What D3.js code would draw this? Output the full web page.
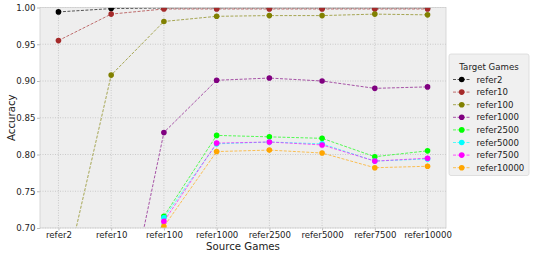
<!doctype html>
<html lang="en">
<head>
<meta charset="UTF-8">
<title>Accuracy by source game</title>
<style type="text/css">
body {
  margin: 0;
  padding: 0;
  background: #fff;
  font-family: 'DejaVu Sans', sans-serif;
}
</style>
<script type="text/javascript" src="https://cdn.jsdelivr.net/npm/d3@7"></script>
</head>
<body>
<div id="chart"></div>
<script type="text/javascript">

var sourceGames = ['refer2', 'refer10', 'refer100', 'refer1000', 'refer2500', 'refer5000', 'refer7500', 'refer10000'];
var targetGames = ['refer2', 'refer10', 'refer100', 'refer1000', 'refer2500', 'refer5000', 'refer7500', 'refer10000'];
var lineColors = ['#000000', '#a52a2a', '#808000', '#800080', '#00ff00', '#00ffff', '#ff00ff', '#ffa500'];
var yTicks = [0.70, 0.75, 0.80, 0.85, 0.90, 0.95, 1.00];

// one array per target game, values over the source games
var accRefer2 = [0.994, 0.9985, 0.9993, 0.9994, 0.9994, 0.9994, 0.9994, 0.9994];
var accRefer10 = [0.955, 0.991, 0.998, 0.998, 0.998, 0.998, 0.998, 0.998];
var accRefer100 = [0.595, 0.908, 0.981, 0.988, 0.989, 0.989, 0.991, 0.990];
var accRefer1000 = [0.45, 0.487, 0.830, 0.901, 0.904, 0.900, 0.890, 0.892];
var accRefer2500 = [0.40, 0.42, 0.716, 0.826, 0.824, 0.822, 0.797, 0.805];
var accRefer5000 = [0.40, 0.42, 0.714, 0.8145, 0.817, 0.8145, 0.791, 0.794];
var accRefer7500 = [0.40, 0.42, 0.709, 0.8155, 0.817, 0.813, 0.791, 0.795];
var accRefer10000 = [0.40, 0.42, 0.702, 0.804, 0.806, 0.802, 0.782, 0.784];

var series = [accRefer2, accRefer10, accRefer100, accRefer1000, accRefer2500, accRefer5000, accRefer7500, accRefer10000];

var w = 533, h = 256;
var margin = {top: 7.5, right: 87, bottom: 28, left: 40};
var pw = w - margin.left - margin.right;
var ph = h - margin.top - margin.bottom;
var fontSize = '8.6px';

var svg = d3.select('#chart').append('svg')
  .attr('width', w)
  .attr('height', h);

var x = d3.scalePoint().domain(sourceGames).range([0, pw]).padding(0.35);
var y = d3.scaleLinear().domain([0.70, 1.00]).range([ph, 0]);

var g = svg.append('g').attr('transform', 'translate(' + margin.left + ',' + margin.top + ')');

g.append('rect')
  .attr('width', pw)
  .attr('height', ph)
  .attr('fill', '#eeeeee');

// grid
g.selectAll('line.hgrid').data(yTicks).enter().append('line')
  .attr('class', 'hgrid')
  .attr('x1', 0).attr('x2', pw)
  .attr('y1', function(d) { return y(d); })
  .attr('y2', function(d) { return y(d); })
  .attr('stroke', '#b2b2b2')
  .attr('stroke-width', 0.6)
  .attr('stroke-dasharray', '1,1.5');

g.selectAll('line.vgrid').data(sourceGames).enter().append('line')
  .attr('class', 'vgrid')
  .attr('y1', 0).attr('y2', ph)
  .attr('x1', function(d) { return x(d); })
  .attr('x2', function(d) { return x(d); })
  .attr('stroke', '#b2b2b2')
  .attr('stroke-width', 0.6)
  .attr('stroke-dasharray', '1,1.5');

// axes
var xAxis = g.append('g')
  .attr('transform', 'translate(0,' + ph + ')')
  .call(d3.axisBottom(x).tickSize(2.5).tickPadding(1.5));
var yAxis = g.append('g')
  .call(d3.axisLeft(y).tickValues(yTicks).tickFormat(d3.format('.2f')).tickSize(3).tickPadding(1.5));

[xAxis, yAxis].forEach(function(a) {
  a.select('.domain').remove();
  a.selectAll('.tick line').attr('stroke', '#bcbcbc');
  a.selectAll('text')
    .attr('fill', '#222')
    .style('font-size', fontSize)
    .style('font-family', "'DejaVu Sans', sans-serif");
});

// lines and markers
var clip = svg.append('clipPath').attr('id', 'plotclip')
  .append('rect').attr('width', pw).attr('height', ph);

var line = d3.line()
  .x(function(d, i) { return x(sourceGames[i]); })
  .y(function(d) { return y(d); });

var plot = g.append('g').attr('clip-path', 'url(#plotclip)');

series.forEach(function(values, si) {
  plot.append('path')
    .datum(values)
    .attr('d', line)
    .attr('fill', 'none')
    .attr('stroke', lineColors[si])
    .attr('stroke-opacity', 0.65)
    .attr('stroke-width', 1)
    .attr('stroke-dasharray', '3,1.5');
  plot.selectAll('circle.s' + si).data(values).enter().append('circle')
    .attr('class', 's' + si)
    .attr('cx', function(d, i) { return x(sourceGames[i]); })
    .attr('cy', function(d) { return y(d); })
    .attr('r', 2.8)
    .attr('fill', lineColors[si]);
});

g.append('rect')
  .attr('width', pw)
  .attr('height', ph)
  .attr('fill', 'none')
  .attr('stroke', '#d0d0d0')
  .attr('stroke-width', 0.8);

// axis titles
svg.append('text')
  .attr('x', margin.left + pw / 2)
  .attr('y', 250)
  .attr('text-anchor', 'middle')
  .style('font-size', '10.2px')
  .attr('fill', '#222')
  .text('Source Games');

svg.append('text')
  .attr('transform', 'translate(15,' + (margin.top + ph / 2) + ') rotate(-90)')
  .attr('text-anchor', 'middle')
  .style('font-size', '10.2px')
  .attr('fill', '#222')
  .text('Accuracy');

// legend
var lx = 449, ly = 54;
var legend = svg.append('g').attr('transform', 'translate(' + lx + ',' + ly + ')');
legend.append('rect')
  .attr('width', 80)
  .attr('height', 121.5)
  .attr('rx', 2)
  .attr('fill', '#f0f0f0')
  .attr('stroke', '#d8d8d8')
  .attr('stroke-width', 0.8);
legend.append('text')
  .attr('x', 40)
  .attr('y', 15.7)
  .attr('text-anchor', 'middle')
  .style('font-size', fontSize)
  .attr('fill', '#222')
  .text('Target Games');

var items = legend.selectAll('g.item').data(targetGames).enter().append('g')
  .attr('class', 'item')
  .attr('transform', function(d, i) { return 'translate(0,' + (25.5 + i * 12.6) + ')'; });
items.append('line')
  .attr('x1', 4).attr('x2', 21)
  .attr('stroke', function(d, i) { return lineColors[i]; })
  .attr('stroke-opacity', 0.65)
  .attr('stroke-width', 1)
  .attr('stroke-dasharray', '3,1.5');
items.append('circle')
  .attr('cx', 12.7)
  .attr('r', 2.8)
  .attr('fill', function(d, i) { return lineColors[i]; });
items.append('text')
  .attr('x', 27.5)
  .attr('dy', '0.35em')
  .style('font-size', fontSize)
  .attr('fill', '#222')
  .text(function(d) { return d; });

</script>
</body>
</html>
